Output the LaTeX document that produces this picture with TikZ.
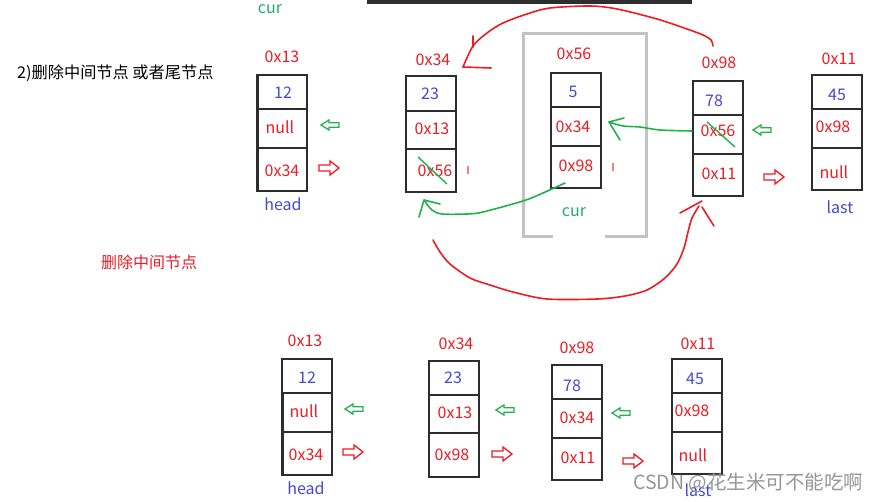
\documentclass[tikz,border=0pt]{standalone}
\usepackage{fontspec}
\setmainfont{Noto Sans CJK SC}
\definecolor{myred}{RGB}{237,28,36}
\definecolor{myblue}{RGB}{70,72,210}
\definecolor{mygreen}{RGB}{34,177,76}
\definecolor{curgreen}{RGB}{30,175,110}
\definecolor{boxline}{RGB}{45,45,45}
\definecolor{frame}{RGB}{195,195,195}
\definecolor{pinkmark}{RGB}{240,130,130}
\definecolor{wmark}{RGB}{150,150,150}
\tikzset{
  lbl/.style={inner sep=0pt, font=\fontsize{16}{19}\selectfont},
  boxst/.style={draw=boxline, line width=1.5pt, inner sep=0pt, outer sep=0pt},
  divst/.style={draw=boxline, line width=1.5pt},
  hand/.style={line width=1.6pt, line cap=round, line join=round},
  rarrow/.pic={\draw[line width=1.3pt, line join=miter] (-10,-3) -- (1,-3) -- (1,-7) -- (10,0) -- (1,7) -- (1,3) -- (-10,3) -- cycle;},
  larrow/.pic={\draw[line width=1.3pt, line join=miter] (9,-2.2) -- (-1,-2.2) -- (-1,-5) -- (-9,0) -- (-1,5) -- (-1,2.2) -- (9,2.2) -- cycle;}
}
\newcommand\llbox[6]{%
  \node[boxst, minimum width=50pt, minimum height={#4-#3}, anchor=north west] (#1) at (#2,#3) {};
  \draw[divst] (#2,#5) -- ++(49,0);
  \draw[divst] (#2,#6) -- ++(49,0);}
\begin{document}
\begin{tikzpicture}[x=1pt,y=-1pt]
\useasboundingbox[fill=white] (0,0) rectangle (880,502);
% top black bar
\fill[black!82] (367,0) rectangle (692,4);
% title and labels
\node[lbl, curgreen] (curtop) at (270,9) {cur};
\node[inner sep=0pt, anchor=west, font=\fontsize{16.2}{19}\selectfont] (title) at (17,73) {2)删除中间节点 或者尾节点};
\node[inner sep=0pt, myred, font=\fontsize{16}{19}\selectfont] (sub) at (149,262) {删除中间节点};
% gray frame around cur node
\draw[frame, line width=3pt] (553,237) -- (523,237) -- (523,34) -- (646,34) -- (646,237) -- (605,237);
% ---------- top row ----------
\llbox{A}{257}{75}{191}{109}{148}
\draw[boxline, line width=2.6pt] (257.5,75) -- (257.5,191);
\node[lbl, myred] (A0) at (282,57) {0x13};
\node[lbl, myblue] (A1) at (283,93) {12};
\node[lbl, myred] (A2) at (280,127) {null};
\node[lbl, myred] (A3) at (282,171) {0x34};
\node[lbl, myblue] (Ah) at (283,204) {head};
\pic[mygreen] at (330,125) {larrow};
\pic[myred] at (329,168) {rarrow};

\llbox{B}{406}{76}{192}{111}{149}
\node[lbl, myred] (B0) at (433,60) {0x34};
\node[lbl, myblue] (B1) at (430,94) {23};
\node[lbl, myred] (B2) at (432,129) {0x13};
\node[lbl, myred] (B3) at (435,171) {0x56};
\draw[mygreen, line width=1.4pt] (418,157) -- (447,184);
\draw[pinkmark, line width=1.5pt] (468,166) -- (468,174);

\llbox{C}{551}{73}{188}{107}{146}
\node[lbl, myred] (C0) at (574,54) {0x56};
\node[lbl, myblue] (C1) at (573,92) {5};
\node[lbl, myred] (C2) at (573,127) {0x34};
\node[lbl, myred] (C3) at (576,166) {0x98};
\node[lbl, curgreen] (Ccur) at (574,212) {cur};
\draw[pinkmark, line width=1.5pt] (613,163) -- (613,171);

\llbox{D}{693}{81}{196}{115}{154}
\node[lbl, myred] (D0) at (719,63) {0x98};
\node[lbl, myblue] (D1) at (714,101) {78};
\node[lbl, myred] (D2) at (718,131) {0x56};
\node[lbl, myred] (D3) at (719,174) {0x11};
\draw[mygreen, line width=1.4pt] (707,122) -- (735,147);
\pic[mygreen] at (762,130) {larrow};
\pic[myred] at (774,177) {rarrow};

\llbox{E}{812}{75}{190}{109}{148}
\node[lbl, myred] (E0) at (839,59) {0x11};
\node[lbl, myblue] (E1) at (837,95) {45};
\node[lbl, myred] (E2) at (833,127) {0x98};
\node[lbl, myred] (E3) at (834,172) {null};
\node[lbl, myblue] (El) at (840,207) {last};

% hand-drawn connectors
\coordinate (g1s) at (692,131);
\coordinate (g1t) at (609,122);
\draw[mygreen, hand] plot[smooth, tension=0.5] coordinates {(g1s) (660,130) (640,127) (623,126) (g1t)};
\draw[mygreen, hand] (624,118) -- (g1t) -- (620,140);

\coordinate (g2s) at (565,183);
\coordinate (g2t) at (424,200);
\draw[mygreen, hand] plot[smooth, tension=0.5] coordinates {(g2s) (543,193) (523,201) (483,212) (467,214) (442,214) (432,210) (g2t)};
\draw[mygreen, hand] (440,204) -- (g2t) -- (419,217);

\coordinate (r1s) at (713,46);
\coordinate (r1t) at (463,67);
\draw[myred, hand] plot[smooth, tension=0.5] coordinates {(r1s) (711,40) (703,35) (687,29) (657,19) (617,9) (590,6) (550,8) (527,14) (503,23) (487,33) (473,46) (r1t)};
\draw[myred, hand] (r1t) -- (491,68);
\draw[myred, hand] (473,36) -- (473,47);

\coordinate (r2s) at (433,240);
\coordinate (r2t) at (699,206);
\draw[myred, hand] plot[smooth, tension=0.5] coordinates {(r2s) (440,252) (450,264) (470,278) (490,285) (513,292) (547,299) (597,299) (625,296) (647,290) (665,278) (677,264) (684,248) (688,232) (692,218) (r2t)};
\draw[myred, hand] (680,213) -- (702,201);
\draw[myred, hand] (702,207) -- (714,226);

% ---------- bottom row ----------
\llbox{F}{282}{359}{475}{393}{432}
\draw[boxline, line width=2.6pt] (282.5,393) -- (282.5,475);
\node[lbl, myred] (F0) at (305,341) {0x13};
\node[lbl, myblue] (F1) at (307,378) {12};
\node[lbl, myred] (F2) at (304,411) {null};
\node[lbl, myred] (F3) at (306,455) {0x34};
\node[lbl, myblue] (Fh) at (306,488) {head};
\pic[mygreen] at (354,409) {larrow};
\pic[myred] at (353,452) {rarrow};

\llbox{G}{429}{361}{477}{395}{433}
\node[lbl, myred] (G0) at (456,344) {0x34};
\node[lbl, myblue] (G1) at (453,378) {23};
\node[lbl, myred] (G2) at (455,413) {0x13};
\node[lbl, myred] (G3) at (452,455) {0x98};
\pic[mygreen] at (505,410) {larrow};
\pic[myred] at (502,454) {rarrow};

\llbox{H}{552}{365}{480}{399}{438}
\node[lbl, myred] (H0) at (577,348) {0x98};
\node[lbl, myblue] (H1) at (572,386) {78};
\node[lbl, myred] (H2) at (577,418) {0x34};
\node[lbl, myred] (H3) at (578,458) {0x11};
\pic[mygreen] at (621,413) {larrow};
\pic[myred] at (633,461) {rarrow};

\llbox{K}{672}{359}{474}{393}{432}
\node[lbl, myred] (K0) at (698,344) {0x11};
\node[lbl, myblue] (K1) at (695,379) {45};
\node[lbl, myred] (K2) at (692,411) {0x98};
\node[lbl, myred] (K3) at (693,455) {null};
\node[lbl, myblue] (Kl) at (698,490) {last};

% watermark
\node[inner sep=0pt, wmark, anchor=west, font=\fontsize{19.5}{23}\selectfont] (wm) at (633,483) {CSDN @花生米可不能吃啊};
\end{tikzpicture}
\end{document}
